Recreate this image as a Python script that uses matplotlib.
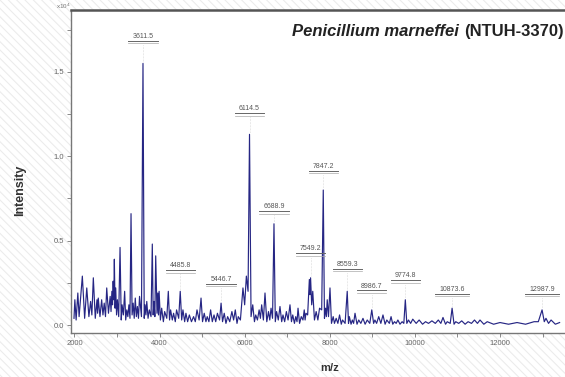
import matplotlib
matplotlib.use('Agg')
import matplotlib.pyplot as plt
from matplotlib.ticker import MultipleLocator, FormatStrFormatter

plt.rcParams['font.family'] = ['Liberation Sans', 'DejaVu Sans']
plt.rcParams['hatch.color'] = '#ececec'
plt.rcParams['hatch.linewidth'] = 0.8

# Spectrum trace (m/z, intensity x10^4)
peak_mz = [2010, 2080, 2186, 2290, 2380, 2444, 2530, 2560, 2640, 2700,
           2759, 2840, 2880, 2910, 2938, 2970, 3010, 3072, 3120, 3180,
           3230, 3280, 3330, 3380, 3430, 3480, 3530, 3611, 3660, 3700,
           3760, 3830, 3870, 3910, 3960, 3990, 4050, 4120, 4206, 4260,
           4330, 4400, 4486, 4550, 4620, 4700, 4800, 4880, 4975, 5050,
           5120, 5200, 5280, 5360, 5446, 5520, 5600, 5700, 5780, 5850,
           5960, 6040, 6114, 6190, 6260, 6340, 6400, 6478, 6560, 6620,
           6689, 6750, 6830, 6900, 6980, 7065, 7130, 7200, 7254, 7330,
           7400, 7440, 7520, 7549, 7600, 7680, 7760, 7847, 7900, 7940,
           8005, 8080, 8150, 8230, 8300, 8410, 8460, 8530, 8593, 8680,
           8780, 8880, 8987, 9060, 9150, 9250, 9340, 9440, 9520, 9600,
           9700, 9775, 9850, 9950, 10100, 10250, 10400, 10550, 10660, 10760,
           10874, 10960, 11100, 11250, 11400, 11530, 11700, 12000, 12400, 12800,
           12988, 13080, 13200, 13400]
peak_int = [0.15, 0.19, 0.29, 0.22, 0.14, 0.28, 0.15, 0.16, 0.15, 0.13,
            0.22, 0.17, 0.20, 0.26, 0.39, 0.22, 0.15, 0.46, 0.12, 0.20,
            0.09, 0.12, 0.66, 0.13, 0.16, 0.11, 0.17, 1.55, 0.12, 0.14,
            0.09, 0.48, 0.14, 0.41, 0.19, 0.20, 0.10, 0.08, 0.20, 0.09,
            0.07, 0.09, 0.20, 0.09, 0.07, 0.06, 0.05, 0.09, 0.16, 0.07,
            0.05, 0.09, 0.06, 0.07, 0.13, 0.07, 0.05, 0.08, 0.09, 0.05,
            0.22, 0.29, 1.13, 0.12, 0.06, 0.09, 0.12, 0.19, 0.08, 0.10,
            0.60, 0.08, 0.11, 0.06, 0.08, 0.12, 0.06, 0.05, 0.10, 0.05,
            0.09, 0.07, 0.27, 0.28, 0.20, 0.08, 0.10, 0.80, 0.10, 0.15,
            0.22, 0.05, 0.04, 0.06, 0.03, 0.20, 0.05, 0.03, 0.07, 0.03,
            0.04, 0.03, 0.09, 0.03, 0.05, 0.06, 0.03, 0.05, 0.02, 0.03,
            0.02, 0.15, 0.03, 0.035, 0.03, 0.02, 0.025, 0.03, 0.045, 0.02,
            0.10, 0.02, 0.025, 0.02, 0.03, 0.03, 0.02, 0.015, 0.015, 0.02,
            0.09, 0.04, 0.03, 0.015]
valley_mz = [1990, 2040, 2110, 2240, 2340, 2410, 2490, 2545, 2600, 2670,
             2730, 2800, 2860, 2895, 2925, 2955, 2990, 3040, 3100, 3150,
             3205, 3255, 3305, 3355, 3405, 3455, 3505, 3575, 3640, 3680,
             3730, 3800, 3850, 3890, 3940, 3975, 4020, 4090, 4170, 4235,
             4300, 4370, 4450, 4520, 4590, 4660, 4750, 4840, 4930, 5010,
             5090, 5160, 5240, 5320, 5410, 5480, 5560, 5650, 5740, 5820,
             5900, 6000, 6080, 6150, 6230, 6300, 6370, 6440, 6520, 6590,
             6655, 6720, 6790, 6870, 6940, 7020, 7100, 7170, 7230, 7290,
             7370, 7420, 7480, 7535, 7575, 7640, 7720, 7810, 7875, 7920,
             7970, 8040, 8110, 8190, 8270, 8360, 8440, 8500, 8560, 8640,
             8730, 8830, 8940, 9030, 9100, 9200, 9300, 9400, 9480, 9560,
             9650, 9740, 9810, 9900, 10030, 10180, 10320, 10480, 10610, 10720,
             10830, 10920, 11030, 11180, 11330, 11470, 11620, 11850, 12200, 12600,
             12900, 13040, 13140, 13300]
valley_int = [0.04, 0.03, 0.05, 0.04, 0.05, 0.06, 0.04, 0.07, 0.05, 0.06,
              0.05, 0.07, 0.08, 0.12, 0.15, 0.10, 0.06, 0.05, 0.03, 0.06,
              0.03, 0.05, 0.04, 0.06, 0.04, 0.05, 0.04, 0.05, 0.04, 0.06,
              0.04, 0.05, 0.06, 0.05, 0.07, 0.06, 0.03, 0.02, 0.04, 0.03,
              0.03, 0.02, 0.04, 0.03, 0.02, 0.02, 0.02, 0.02, 0.03, 0.02,
              0.02, 0.02, 0.02, 0.02, 0.03, 0.02, 0.01, 0.02, 0.03, 0.01,
              0.03, 0.12, 0.20, 0.05, 0.02, 0.03, 0.04, 0.03, 0.02, 0.03,
              0.04, 0.02, 0.03, 0.02, 0.02, 0.03, 0.02, 0.01, 0.02, 0.01,
              0.03, 0.03, 0.06, 0.18, 0.12, 0.03, 0.03, 0.09, 0.04, 0.05,
              0.05, 0.01, 0.01, 0.01, 0.005, 0.01, 0.01, 0.005, 0.01, 0.005,
              0.01, 0.005, 0.01, 0.01, 0.01, 0.01, 0.005, 0.01, 0.005, 0.01,
              0.005, 0.01, 0.01, 0.01, 0.01, 0.005, 0.01, 0.01, 0.01, 0.005,
              0.01, 0.005, 0.01, 0.005, 0.01, 0.01, 0.005, 0.005, 0.005, 0.005,
              0.02, 0.02, 0.01, 0.005]

# Labelled peaks: text, m/z position, peak top, label height
label_text = ['3611.5', '6114.5', '7847.2', '6688.9', '7549.2', '8559.3',
              '4485.8', '5446.7', '9774.8', '8986.7', '10873.6', '12987.9']
label_mz = [3611, 6114, 7847, 6689, 7549, 8410, 4486, 5446, 9775, 8987, 10874, 12988]
label_top = [1.55, 1.13, 0.80, 0.60, 0.28, 0.20, 0.20, 0.13, 0.15, 0.09, 0.10, 0.09]
label_y = [1.69, 1.26, 0.92, 0.68, 0.43, 0.34, 0.33, 0.25, 0.27, 0.21, 0.19, 0.19]

pts = sorted(zip(peak_mz + valley_mz, peak_int + valley_int))
trace_x = [p[0] for p in pts]
trace_y = [p[1] for p in pts]

fig = plt.figure(figsize=(5.65, 3.77), dpi=100)
fig.patch.set_facecolor('white')
fig.patch.set_hatch('\\\\\\\\')
fig.patch.set_edgecolor('#ececec')
fig.patch.set_linewidth(0)

ax = fig.add_axes([0.1257, 0.1167, 0.8743, 0.857])
ax.set_facecolor('white')
ax.plot(trace_x, trace_y, color='#262684', linewidth=0.85)

for t, x, top, y in zip(label_text, label_mz, label_top, label_y):
    ax.text(x, y, t, ha='center', va='bottom', fontsize=5, color='#555555')
    w = 75 + 45 * len(t)
    ax.plot([x - w, x + w], [y - 0.005, y - 0.005], color='#666666', linewidth=0.7)
    ax.plot([x - w, x + w], [y - 0.02, y - 0.02], color='#aaaaaa', linewidth=0.5)
    ax.plot([x, x], [y - 0.03, top + 0.01], color='#bbbbbb', linewidth=0.4, linestyle=':')

ax.set_xlim(1920, 13527)
ax.set_ylim(-0.047, 1.867)
ax.xaxis.set_major_locator(MultipleLocator(2000))
ax.xaxis.set_minor_locator(MultipleLocator(1000))
ax.yaxis.set_major_locator(MultipleLocator(0.5))
ax.yaxis.set_minor_locator(MultipleLocator(0.25))
ax.yaxis.set_major_formatter(FormatStrFormatter('%.1f'))
ax.tick_params(which='both', direction='out', length=3, width=0.6, color='#777777',
               labelsize=5.5, labelcolor='#666666', pad=2)

for s in ['left', 'bottom']:
    ax.spines[s].set_color('#777777')
    ax.spines[s].set_linewidth(1.0)
ax.spines['top'].set_color('#555555')
ax.spines['top'].set_linewidth(1.8)
ax.spines['right'].set_visible(False)

fig.text(0.112, 0.982, 'x10$^4$', fontsize=4.5, color='#777777', ha='center', va='center')

strain = ax.text(0.997, 0.932, '(NTUH-3370)', transform=ax.transAxes, ha='right',
                 va='center', fontsize=12, fontweight='bold', color='#222222')
ax.annotate('Penicillium marneffei ', xy=(0, 0.5), xycoords=strain, ha='right', va='center',
            fontsize=12, fontweight='bold', fontstyle='italic', color='#222222')

fig.text(0.036, 0.496, 'Intensity', rotation=90, ha='center', va='center',
         fontsize=9, fontweight='bold', color='#333333')
fig.text(0.584, 0.024, 'm/z', ha='center', va='center', fontsize=8,
         fontweight='bold', color='#333333')

fig.savefig('out.png', dpi=100, facecolor=fig.get_facecolor())
